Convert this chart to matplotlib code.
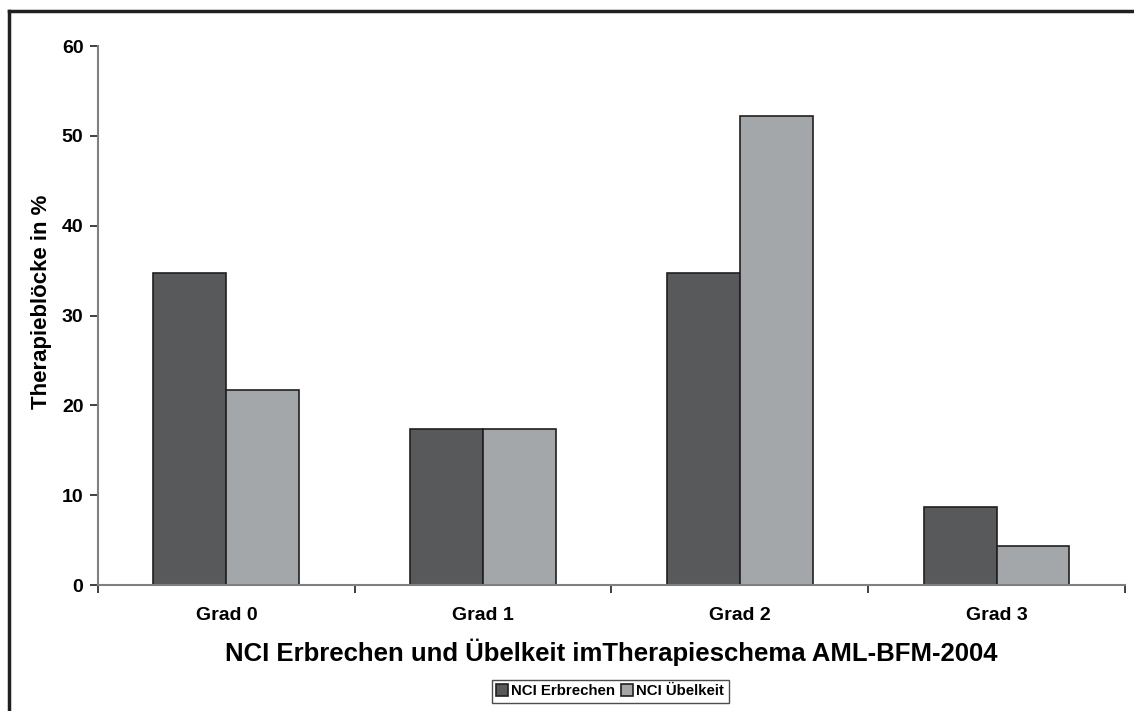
import numpy as np
import matplotlib.pyplot as plt
from matplotlib.lines import Line2D

categories = ['Grad 0', 'Grad 1', 'Grad 2', 'Grad 3']
erbrechen = [34.78, 17.39, 34.78, 8.70]
uebelkeit = [21.74, 17.39, 52.17, 4.35]
yticks = [0, 10, 20, 30, 40, 50, 60]

plt.rcParams['font.family'] = ['Liberation Sans', 'DejaVu Sans']
plt.rcParams['font.weight'] = 'bold'

fig = plt.figure(figsize=(11.34, 7.11), dpi=100)
ax = fig.add_axes([0.0864, 0.1772, 0.9056, 0.7581])

x = np.arange(len(categories))
w = 0.284
ax.bar(x - w / 2, erbrechen, w, color='#58595b', edgecolor='#231f20', linewidth=1.2,
       label='NCI Erbrechen')
ax.bar(x + w / 2, uebelkeit, w, color='#a4a7aa', edgecolor='#231f20', linewidth=1.2,
       label='NCI Übelkeit')

ax.set_xlim(-0.5, len(categories) - 0.5)
ax.set_ylim(0, 60)
ax.set_yticks(yticks)
ax.set_xticks(x)
ax.set_xticklabels(categories)
ax.set_xticks(np.arange(len(categories) + 1) - 0.5, minor=True)
ax.tick_params(axis='x', which='major', length=0, pad=16, labelsize=14)
ax.tick_params(axis='x', which='minor', length=6, width=1.2, color='#231f20', direction='out')
ax.tick_params(axis='y', length=6, width=1.2, color='#231f20', pad=4.5, labelsize=14)

for s in ['top', 'right']:
    ax.spines[s].set_visible(False)
for s in ['left', 'bottom']:
    ax.spines[s].set_color('#808080')
    ax.spines[s].set_linewidth(1.5)

ax.set_ylabel('Therapieblöcke in %', fontsize=16, fontweight='bold')
ax.yaxis.set_label_coords(-0.045, 0.525)
ax.set_xlabel('NCI Erbrechen und Übelkeit imTherapieschema AML-BFM-2004',
              fontsize=18.5, fontweight='bold', labelpad=10)

leg = fig.legend(loc='center', bbox_to_anchor=(0.538, 0.028), ncol=2, fontsize=10.8,
                 frameon=True, fancybox=False, handlelength=0.8, handleheight=0.8,
                 handletextpad=0.2, columnspacing=0.4, borderpad=0.3, borderaxespad=0)
leg.get_frame().set_edgecolor('#231f20')
leg.get_frame().set_linewidth(1.0)
for t in leg.get_texts():
    t.set_fontweight('bold')

# outer frame (only top and left edges visible)
fig.add_artist(Line2D([0.0083, 1.0], [0.984, 0.984], color='#231f20', linewidth=2.5,
                      transform=fig.transFigure))
fig.add_artist(Line2D([0.0083, 0.0083], [0.0, 0.984], color='#231f20', linewidth=2.5,
                      transform=fig.transFigure))

fig.savefig('out.png', dpi=100)
